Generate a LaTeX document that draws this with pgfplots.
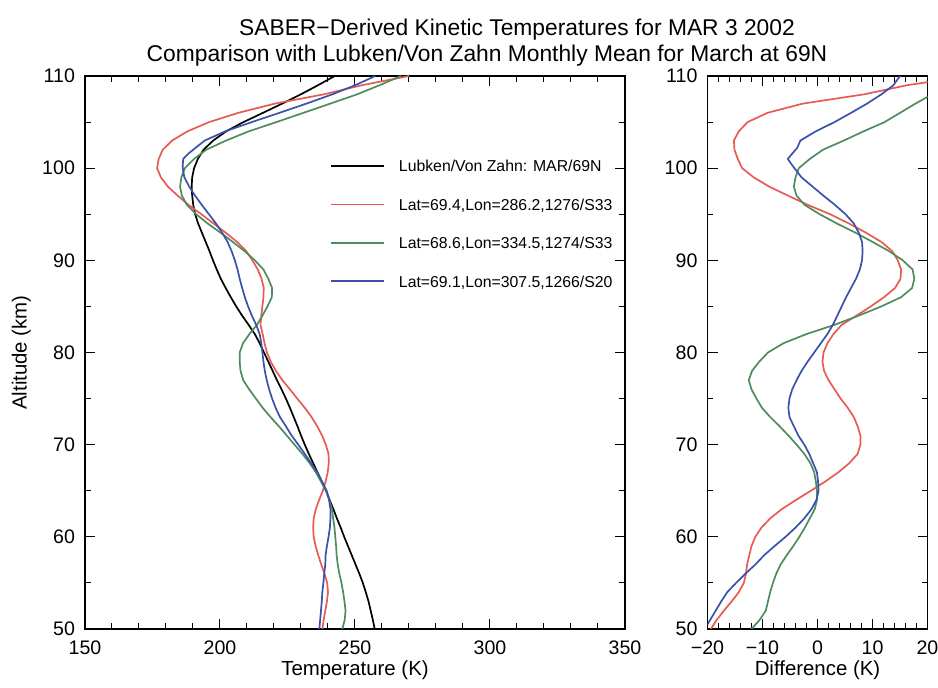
\documentclass[border=0pt]{standalone}
\usepackage{fontspec}
\setmainfont{Liberation Sans}
\usepackage{pgfplots}
\usepackage{pgfplotstable}
\pgfplotsset{compat=1.18}
\definecolor{cred}{RGB}{230,92,84}
\definecolor{cgreen}{RGB}{78,140,94}
\definecolor{cblue}{RGB}{58,82,170}

\pgfplotstableread{
alt T
110 242.5
109 236.3
108 229.9
107 223.0
106 215.9
105 208.7
104 202.3
103 197.5
102 193.9
101 191.8
100 190.4
99 189.7
98 189.5
97 189.7
96 190.1
95 190.8
94 191.9
93 193.3
92 194.7
91 196.1
90 197.4
89 198.8
88 200.3
87 202.1
86 204.0
85 206.0
84 208.2
83 210.6
82 212.9
81 214.7
80 216.3
79 217.9
78 219.5
77 221.1
76 222.8
75 224.4
74 225.9
73 227.3
72 228.7
71 230.0
70 231.4
69 232.9
68 234.5
67 236.1
66 237.7
65 239.3
64 240.6
63 242.0
62 243.3
61 244.7
60 246.0
59 247.4
58 248.8
57 250.2
56 251.6
55 252.9
54 254.0
53 255.0
52 255.8
51 256.6
50 257.3
}\blackdata

\pgfplotstableread{
alt T D
110 270.0 27.5
109 252.6 16.3
108 238.3 8.4
107 220.3 -2.7
106 206.8 -9.1
105 196.0 -12.7
104 188.0 -14.3
103 182.3 -15.2
102 178.8 -15.1
101 177.3 -14.5
100 176.7 -13.7
99 178.1 -11.6
98 180.7 -8.8
97 184.4 -5.3
96 188.4 -1.7
95 193.1 2.3
94 197.6 5.7
93 202.1 8.8
92 206.3 11.6
91 209.7 13.6
90 212.0 14.6
89 214.0 15.2
88 215.4 15.1
87 216.2 14.1
86 216.1 12.1
85 215.7 9.7
84 215.3 7.1
83 215.0 4.4
82 215.8 2.9
81 216.5 1.8
80 217.4 1.1
79 218.8 0.9
78 220.7 1.2
77 223.1 2.0
76 225.9 3.1
75 228.6 4.2
74 231.4 5.5
73 233.9 6.6
72 236.0 7.3
71 237.8 7.8
70 239.2 7.8
69 240.2 7.3
68 240.3 5.8
67 239.9 3.8
66 239.1 1.4
65 238.1 -1.2
64 236.7 -3.9
63 235.5 -6.5
62 234.7 -8.6
61 234.5 -10.2
60 234.7 -11.3
59 235.4 -12.0
58 236.4 -12.4
57 237.5 -12.8
56 238.7 -13.0
55 239.7 -13.4
54 240.0 -14.3
53 239.6 -15.6
52 239.0 -17.0
51 238.4 -18.3
50 237.9 -19.4
}\reddata

\pgfplotstableread{
alt T D
110 267.0 24.5
109 259.1 22.8
108 250.7 20.8
107 240.8 17.8
106 230.9 15.0
105 220.9 12.2
104 210.7 8.4
103 202.3 4.8
102 194.9 1.0
101 190.4 -1.4
100 187.0 -3.4
99 185.7 -4.0
98 185.2 -4.3
97 185.9 -3.8
96 187.8 -2.3
95 191.2 0.4
94 195.4 3.5
93 200.2 6.9
92 204.7 10.0
91 209.1 13.0
90 212.9 15.5
89 216.1 17.3
88 217.9 17.6
87 219.3 17.2
86 219.2 15.2
85 217.6 11.6
84 215.7 7.5
83 213.7 3.1
82 210.9 -2.0
81 208.5 -6.2
80 207.3 -9.0
79 207.3 -10.6
78 207.6 -11.9
77 208.6 -12.5
76 210.8 -12.0
75 213.3 -11.1
74 215.8 -10.1
73 218.7 -8.6
72 221.8 -6.9
71 224.7 -5.3
70 227.6 -3.8
69 230.5 -2.4
68 233.2 -1.3
67 235.5 -0.6
66 237.4 -0.3
65 239.2 -0.1
64 240.5 -0.1
63 241.5 -0.5
62 241.9 -1.4
61 242.4 -2.3
60 242.7 -3.3
59 243.0 -4.4
58 243.2 -5.6
57 243.6 -6.7
56 244.2 -7.5
55 245.0 -8.1
54 245.6 -8.6
53 246.1 -9.0
52 246.5 -9.4
51 246.2 -10.5
50 245.3 -12.0
}\greendata

\pgfplotstableread{
alt T D
110 257.5 15.0
109 250.1 13.8
108 241.5 11.6
107 232.0 9.0
106 222.0 6.1
105 211.8 3.1
104 202.0 -0.3
103 194.4 -3.1
102.2 190.9 -3.7
101.5 188.0 -4.7
101 186.4 -5.4
100.4 186.2 -4.7
100 186.2 -4.2
99 186.8 -2.9
98 188.6 -0.9
97 190.8 1.1
96 193.3 3.2
95 195.9 5.1
94 198.5 6.6
93 200.8 7.5
92 202.8 8.1
91 204.3 8.2
90 205.5 8.1
89 206.5 7.7
88 207.3 7.0
87 208.2 6.1
86 209.2 5.2
85 210.4 4.4
84 211.8 3.6
83 213.4 2.8
82 214.7 1.8
81 215.3 0.6
80 215.7 -0.6
79 216.1 -1.8
78 216.6 -2.9
77 217.3 -3.8
76 218.2 -4.6
75 219.3 -5.1
74 220.6 -5.3
73 222.2 -5.1
72 224.4 -4.3
71 226.5 -3.5
70 229.0 -2.4
69 231.4 -1.5
68 233.7 -0.8
67 236.0 -0.1
66 237.8 0.1
65 239.5 0.2
64 240.4 -0.2
63 240.9 -1.1
62 240.9 -2.4
61 240.7 -4.0
60 240.2 -5.8
59 239.6 -7.8
58 239.1 -9.7
57 239.0 -11.3
56 238.6 -13.1
55 238.3 -14.8
54 237.9 -16.4
53 237.7 -17.5
52 237.4 -18.5
51 237.1 -19.5
50 236.8 -20.5
}\bluedata

\pgfplotsset{
  myaxis/.style={
    scale only axis,
    height=276.5pt,
    ymin=50, ymax=110,
    ytick={50,60,...,110}, minor y tick num=1,
    tick align=inside,
    major tick length=5pt, minor tick length=2.8pt,
    every tick/.style={black, line width=0.5pt},
    axis line style={line width=0.6pt},
    tick label style={font=\fontsize{9.8}{11}\selectfont},
    label style={font=\fontsize{10.2}{12}\selectfont},
    /pgf/number format/assume math mode=true,
    xticklabel style={yshift=-2.5pt},
    yticklabel style={xshift=-1.5pt},
    xlabel style={at={(axis description cs:0.5,-0.074)}, anchor=center},
  },
  myline/.style={line width=0.85pt},
}

\begin{document}
\begin{tikzpicture}
\useasboundingbox (0,0) rectangle (469pt,344pt);
\node[font=\fontsize{11.4}{13}\selectfont, inner sep=1pt] at (258.5pt,329pt) {SABER−Derived Kinetic Temperatures for MAR 3 2002};
\node[font=\fontsize{11.4}{13}\selectfont, inner sep=1pt] at (243.5pt,316pt) {Comparison with Lubken/Von Zahn Monthly Mean for March at 69N};

\begin{axis}[myaxis,
  at={(42.5pt,29.5pt)}, anchor=south west,
  width=270pt,
  xmin=150, xmax=350,
  xtick={150,200,...,350}, minor x tick num=4,
  xlabel={Temperature (K)},
  ylabel={Altitude (km)},
  ylabel style={at={(axis description cs:-0.118,0.5)}, anchor=center},
  legend image code/.code={\draw[#1] (0pt,0pt) -- (26.5pt,0pt);},
  legend style={at={(axis cs:240.7,100.9)}, anchor=north west, draw=none, fill=none,
    font=\fontsize{7.9}{9}\selectfont, inner sep=0pt, row sep=13.5pt, column sep=0pt,
    nodes={inner sep=0pt, text depth=0pt}},
  legend cell align=left,
]
\addplot[myline, black] table[x=T, y=alt] {\blackdata};
\addlegendentry{\hspace*{7pt}Lubken/Von Zahn: MAR/69N}
\addplot[myline, cred] table[x=T, y=alt] {\reddata};
\addlegendentry{\hspace*{7pt}Lat=69.4,Lon=286.2,1276/S33}
\addplot[myline, cgreen] table[x=T, y=alt] {\greendata};
\addlegendentry{\hspace*{7pt}Lat=68.6,Lon=334.5,1274/S33}
\addplot[myline, cblue] table[x=T, y=alt] {\bluedata};
\addlegendentry{\hspace*{7pt}Lat=69.1,Lon=307.5,1266/S20}
\end{axis}

\begin{axis}[myaxis,
  at={(353.75pt,29.5pt)}, anchor=south west,
  width=110pt,
  xmin=-20, xmax=20,
  xtick={-20,-10,...,20}, xticklabels={−20,−10,0,10,20}, minor x tick num=4,
  xlabel={Difference (K)},
]
\addplot[myline, cred] table[x=D, y=alt] {\reddata};
\addplot[myline, cgreen] table[x=D, y=alt] {\greendata};
\addplot[myline, cblue] table[x=D, y=alt] {\bluedata};
\end{axis}
\end{tikzpicture}
\end{document}
